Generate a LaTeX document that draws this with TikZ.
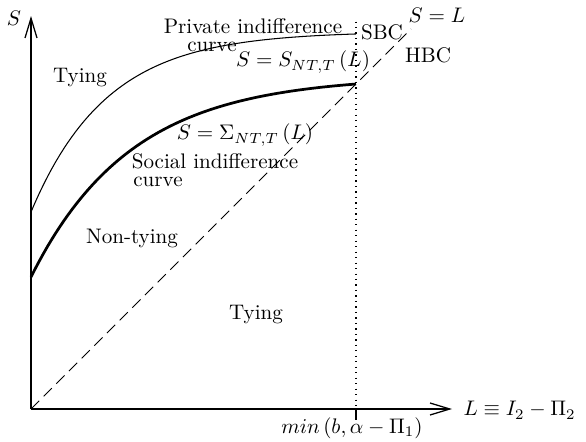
\documentclass[tikz,border=0pt]{standalone}
\usepackage{amsmath,amssymb}
\usetikzlibrary{arrows.meta}
\tikzset{
  axis/.style={line width=0.6pt,-{Straight Barb[length=3.3mm,width=2mm]}},
  privcurve/.style={line width=0.5pt},
  soccurve/.style={line width=1.3pt},
  slope/.style={line width=0.5pt,dash pattern=on 5.5pt off 3pt},
  bound/.style={line width=0.6pt,dotted},
  lbl/.style={inner sep=1pt},
}

\begin{document}
\begin{tikzpicture}[x=0.417cm,y=0.417cm]
  \useasboundingbox (-1.24,-1.28) rectangle (22.2,16.36);
  \coordinate (O) at (0,0);
  \coordinate (xend) at (16.84,0);
  \coordinate (yend) at (0,15.72);
  \coordinate (diag) at (15.2,15.2);
  \coordinate (dtop) at (13,15.5);
  \coordinate (dfoot) at (13,0);
  \coordinate (tick) at (13,-0.42);
  \draw[axis] (O) -- (xend);
  \draw[axis] (O) -- (yend);
  \draw[slope] (O) -- (diag);
  \draw[bound] (dtop) -- (dfoot);
  \draw[line width=0.6pt] (dfoot) -- (tick);
  \draw[privcurve] plot[domain=0:13,samples=80] (\x,{7.88+7.22*(1-exp(-0.33*\x))});
  \draw[soccurve] plot[domain=0:13,samples=80] (\x,{5.28+8.03*(1-exp(-0.25*\x))});
  \node[lbl] (Slab) at (-0.68,15.64) {$S$};
  \node[lbl,anchor=west] (Llab) at (17.2,-0.05) {$L\equiv I_2-\Pi_2$};
  \node[lbl] (minlab) at (12.84,-0.78) {$min\,(b,\alpha-\Pi_1)$};
  \node[lbl] (tyup) at (1.96,13.24) {Tying};
  \node[lbl] (tylow) at (9.0,3.76) {Tying};
  \node[lbl] (nonty) at (4.04,6.84) {Non-tying};
  \node[lbl,inner sep=0pt] (priv) at (8.88,15.3) {Private indifference};
  \node[lbl,inner sep=0pt] (privc) at (7.24,14.5) {curve};
  \node[lbl,inner sep=0pt] (soc) at (7.36,9.9) {Social indifference};
  \node[lbl,inner sep=0pt] (socc) at (5.08,9.1) {curve};
  \node[lbl] (Snt) at (10.88,13.88) {$S=S_{NT,T}\,(L)$};
  \node[lbl] (Sig) at (8.56,10.96) {$S=\Sigma_{NT,T}\,(L)$};
  \node[lbl] (sbc) at (14.04,15.08) {SBC};
  \node[lbl] (SeqL) at (16.24,15.76) {$S=L$};
  \node[lbl] (hbc) at (15.88,14.16) {HBC};
\end{tikzpicture}
\end{document}
